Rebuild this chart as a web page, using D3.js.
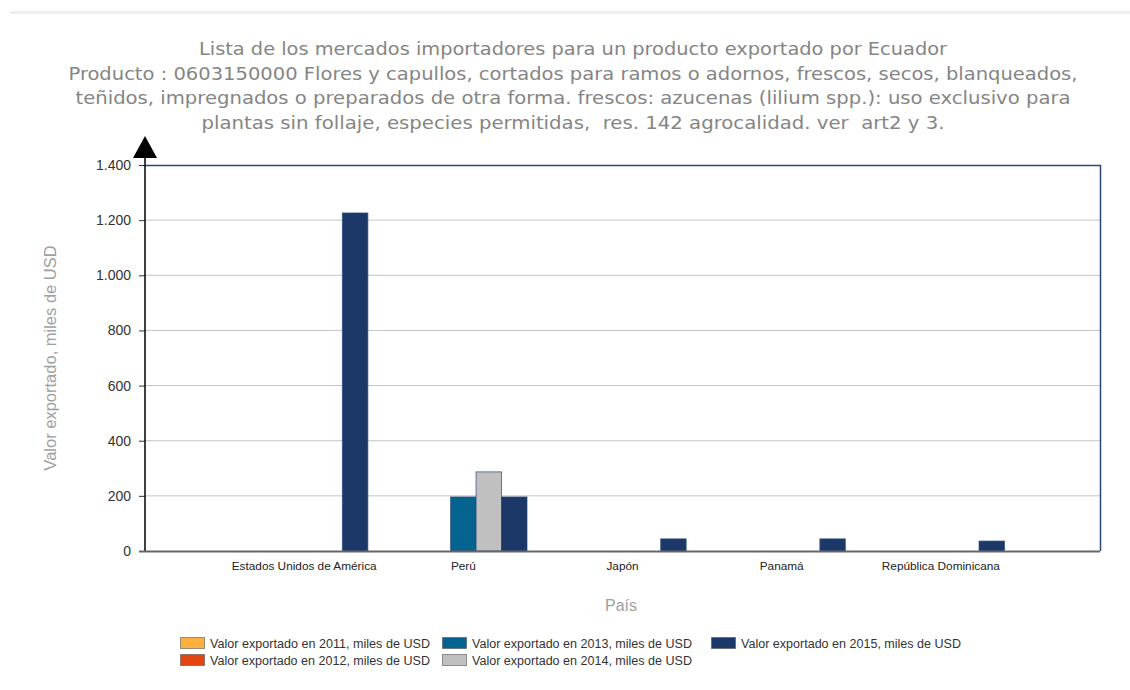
<!DOCTYPE html>
<html><head><meta charset="utf-8">
<script src="https://cdn.jsdelivr.net/npm/d3@7"></script>
<style>body{margin:0;background:#fff;}svg{display:block;} .t{white-space:pre;}</style>
</head><body>
<svg id="c" width="1130" height="690"></svg>
<script>
const categories = ["Estados Unidos de América","Perú","Japón","Panamá","República Dominicana"];
const seriesNames = ["Valor exportado en 2011, miles de USD","Valor exportado en 2012, miles de USD","Valor exportado en 2013, miles de USD","Valor exportado en 2014, miles de USD","Valor exportado en 2015, miles de USD"];
const v2011 = [0,0,0,0,0];
const v2012 = [0,0,0,0,0];
const v2013 = [0,196,0,0,0];
const v2014 = [0,287,0,0,0];
const v2015 = [1226,196,44,44,36];
const seriesValues = [v2011,v2012,v2013,v2014,v2015];
const seriesColors = ["#FBB040","#E2450F","#05638F","#C0C0C0","#1B3868"];
const yTicks = [0,200,400,600,800,1000,1200,1400];
const titleLines = ["Lista de los mercados importadores para un producto exportado por Ecuador",
 "Producto : 0603150000 Flores y capullos, cortados para ramos o adornos, frescos, secos, blanqueados,",
 "teñidos, impregnados o preparados de otra forma. frescos: azucenas (lilium spp.): uso exclusivo para",
 "plantas sin follaje, especies permitidas,  res. 142 agrocalidad. ver  art2 y 3."];
const titleWidths = [748,1009,995,743];

const svg = d3.select("#c");
const L=145, R=1100, T=165, B=551;
const W = R-L;
const fmt = d3.formatLocale({decimal:",",thousands:".",grouping:[3],currency:["$",""]}).format(",d");

// top separator
svg.append("rect").attr("x",10).attr("y",11).attr("width",1120).attr("height",3).attr("fill","#efefef");

// title
titleLines.forEach((t,i)=>{
  svg.append("text").attr("class","t").attr("x",573).attr("y",55+i*24.5).attr("text-anchor","middle")
    .attr("font-family","DejaVu Sans Condensed, DejaVu Sans, sans-serif").attr("font-size",18)
    .attr("fill","#858585").attr("textLength",titleWidths[i]).attr("lengthAdjust","spacingAndGlyphs")
    .text(t);
});

const y = d3.scaleLinear().domain([0,1400]).range([B,T]);
const x0 = d3.scaleBand().domain(categories).range([L+W/12, R-W/12]).paddingInner(0.2).paddingOuter(0.1);
const x1 = d3.scaleBand().domain(d3.range(seriesNames.length)).range([0,x0.bandwidth()]);

// gridlines
svg.append("g").selectAll("line").data(yTicks.filter(d=>d>0 && d<1400)).join("line")
  .attr("x1",L).attr("x2",R).attr("y1",d=>y(d)).attr("y2",d=>y(d))
  .attr("stroke","#c4c4c4").attr("stroke-width",1);

// plot border top/right
svg.append("path").attr("d",`M${L},${y(1400)+0.5}H${R+0.5}V${B}`).attr("fill","none").attr("stroke","#2a4777").attr("stroke-width",1.5);

// bars
const gBars = svg.append("g");
categories.forEach((c,ci)=>{
  seriesValues.forEach((vals,si)=>{
    const v = vals[ci];
    if(v<=0) return;
    gBars.append("rect").attr("x",x0(c)+x1(si)).attr("y",y(v))
      .attr("width",x1.bandwidth()).attr("height",y(0)-y(v))
      .attr("fill",seriesColors[si]).attr("stroke","#2a4777").attr("stroke-width",1).attr("stroke-opacity",0.7);
  });
});

// y axis
const yAxis = d3.axisLeft(y).tickValues(yTicks).tickFormat(fmt).tickSize(6).tickPadding(8);
const gy = svg.append("g").attr("transform",`translate(${L},0)`).call(yAxis);
gy.select(".domain").remove();
gy.selectAll(".tick line").attr("stroke","#333");
gy.selectAll("text").attr("font-family","Liberation Sans, Arial, sans-serif").attr("font-size",14).attr("fill","#333");
svg.append("line").attr("x1",L).attr("x2",L).attr("y1",B).attr("y2",157).attr("stroke","#000").attr("stroke-width",1.5);
svg.append("path").attr("d",`M${L},136L${L-12},158L${L+12},158Z`).attr("fill","#000");

// x axis
svg.append("line").attr("x1",L-6).attr("x2",R).attr("y1",B+0.5).attr("y2",B+0.5).attr("stroke","#666").attr("stroke-width",2);
const xAxis = d3.axisBottom(x0).tickSize(0).tickPadding(11);
const gx = svg.append("g").attr("transform",`translate(0,${B})`).call(xAxis);
gx.select(".domain").remove();
gx.selectAll("text").attr("font-family","Liberation Sans, Arial, sans-serif").attr("font-size",11.8).attr("fill","#222");

// axis titles
svg.append("text").attr("transform","translate(56,358) rotate(-90)").attr("text-anchor","middle")
  .attr("font-family","Liberation Sans, Arial, sans-serif").attr("font-size",16.5).attr("fill","#a0a0a0")
  .text("Valor exportado, miles de USD");
svg.append("text").attr("x",621).attr("y",611).attr("text-anchor","middle")
  .attr("font-family","Liberation Sans, Arial, sans-serif").attr("font-size",16).attr("fill","#a0a0a0")
  .text("País");

// legend
const legPos = [[180,637],[180,654],[442,637],[442,654],[711,637]];
seriesNames.forEach((n,i)=>{
  const [lx,ly] = legPos[i];
  svg.append("rect").attr("x",lx+0.5).attr("y",ly+0.5).attr("width",24).attr("height",11)
    .attr("fill",seriesColors[i]).attr("stroke","#555").attr("stroke-width",1).attr("stroke-opacity",0.6);
  svg.append("text").attr("x",lx+30).attr("y",ly+10.5)
    .attr("font-family","Liberation Sans, Arial, sans-serif").attr("font-size",12).attr("fill","#333")
    .attr("textLength",220).attr("lengthAdjust","spacingAndGlyphs").text(n);
});
</script>
</body></html>
